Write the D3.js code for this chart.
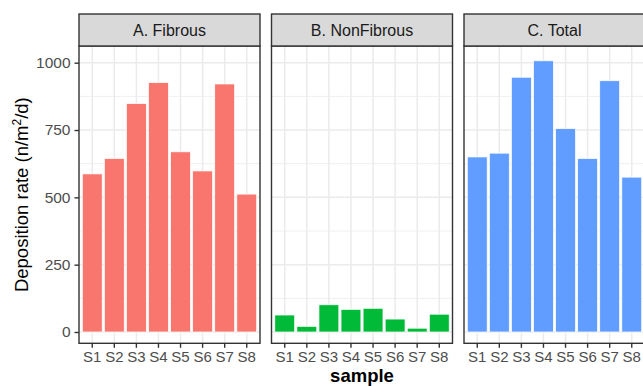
<!DOCTYPE html>
<html>
<head>
<meta charset="utf-8">
<script src="https://cdn.jsdelivr.net/npm/d3@7"></script>
<style>
  html, body { margin: 0; padding: 0; background: #fff; }
  svg { display: block; font-family: "Liberation Sans", Arial, sans-serif; }
</style>
</head>
<body>
<svg id="chart" width="643" height="386"></svg>
<script>
// ---- data ----
const categories = ["S1", "S2", "S3", "S4", "S5", "S6", "S7", "S8"];
const facetLabels = ["A. Fibrous", "B. NonFibrous", "C. Total"];
const fibrous    = [587, 644, 848, 926, 669, 598, 921, 512];
const nonFibrous = [63, 21, 101, 84, 88, 48, 14, 66];
const total      = [650, 664, 946, 1007, 755, 644, 933, 575];
const yTicks = [0, 250, 500, 750, 1000];
const yMinorTicks = [125, 375, 625, 875];
const facetColors = ["#F8766D", "#00BA38", "#619CFF"];

const series = [fibrous, nonFibrous, total];

// ---- layout ----
const svg = d3.select("#chart");
const panelW = 181;
const panelLefts = [79, 271.5, 464];
const stripTop = 14, panelTop = 46, panelBottom = 343.3;

const y = d3.scaleLinear().domain([-42, 1062]).range([panelBottom, panelTop]);
const textCol = "#4D4D4D";

facetLabels.forEach((lab, fi) => {
  const x0 = panelLefts[fi];
  const x = d3.scaleBand().domain(categories)
    .range([x0, x0 + panelW]).paddingInner(0.1).paddingOuter(0.15);
  const g = svg.append("g");

  g.append("rect").attr("x", x0).attr("y", panelTop)
    .attr("width", panelW).attr("height", panelBottom - panelTop).attr("fill", "#fff");

  g.selectAll(".ymin").data(yMinorTicks).join("line")
    .attr("x1", x0).attr("x2", x0 + panelW)
    .attr("y1", d => y(d)).attr("y2", d => y(d))
    .attr("stroke", "#EBEBEB").attr("stroke-width", 0.8);
  g.selectAll(".ymaj").data(yTicks).join("line")
    .attr("x1", x0).attr("x2", x0 + panelW)
    .attr("y1", d => y(d)).attr("y2", d => y(d))
    .attr("stroke", "#EBEBEB").attr("stroke-width", 1.5);
  g.selectAll(".xmaj").data(categories).join("line")
    .attr("x1", d => x(d) + x.bandwidth() / 2).attr("x2", d => x(d) + x.bandwidth() / 2)
    .attr("y1", panelTop).attr("y2", panelBottom)
    .attr("stroke", "#EBEBEB").attr("stroke-width", 1.5);

  g.selectAll(".bar").data(categories.map((c, i) => ({ c, v: series[fi][i] }))).join("rect")
    .attr("x", d => x(d.c)).attr("width", x.bandwidth())
    .attr("y", d => y(d.v)).attr("height", d => y(0) - y(d.v))
    .attr("fill", facetColors[fi]).attr("stroke", "#fff").attr("stroke-width", 0.7);

  g.append("rect").attr("x", x0).attr("y", panelTop)
    .attr("width", panelW).attr("height", panelBottom - panelTop)
    .attr("fill", "none").attr("stroke", "#333333").attr("stroke-width", 1.4);

  g.append("rect").attr("x", x0).attr("y", stripTop)
    .attr("width", panelW).attr("height", panelTop - stripTop)
    .attr("fill", "#D9D9D9").attr("stroke", "#333333").attr("stroke-width", 1.4);
  g.append("text").attr("x", x0 + panelW / 2).attr("y", (stripTop + panelTop) / 2)
    .attr("dy", "0.36em").attr("text-anchor", "middle")
    .attr("font-size", 16).attr("fill", "#1A1A1A").text(lab);

  const xAxis = d3.axisBottom(x).tickSize(4.5).tickPadding(3.5);
  const xa = g.append("g").attr("transform", `translate(0,${panelBottom})`).call(xAxis);
  xa.select(".domain").remove();
  xa.selectAll(".tick line").attr("stroke", "#333333").attr("stroke-width", 1.4);
  xa.selectAll(".tick text").attr("font-size", 15).attr("fill", textCol)
    .attr("font-family", "Liberation Sans, Arial, sans-serif");

  if (fi === 0) {
    const yAxis = d3.axisLeft(y).tickValues(yTicks).tickFormat(d3.format("d"))
      .tickSize(4.5).tickPadding(4);
    const ya = g.append("g").attr("transform", `translate(${x0},0)`).call(yAxis);
    ya.select(".domain").remove();
    ya.selectAll(".tick line").attr("stroke", "#333333").attr("stroke-width", 1.4);
    ya.selectAll(".tick text").attr("font-size", 15.5).attr("fill", textCol)
      .attr("font-family", "Liberation Sans, Arial, sans-serif");
  }
});

const yt = svg.append("text")
  .attr("transform", `translate(28,${(panelTop + panelBottom) / 2}) rotate(-90)`)
  .attr("text-anchor", "middle").attr("font-size", 18.5).attr("fill", "#000");
yt.append("tspan").text("Deposition rate (n/m");
yt.append("tspan").attr("font-size", 12).attr("dy", -7).text("2");
yt.append("tspan").attr("dy", 7).text("/d)");

svg.append("text")
  .attr("x", (panelLefts[0] + panelLefts[2] + panelW) / 2).attr("y", 381.5)
  .attr("text-anchor", "middle").attr("font-size", 18.5).attr("font-weight", "bold")
  .attr("fill", "#000").text("sample");
</script>
</body>
</html>
